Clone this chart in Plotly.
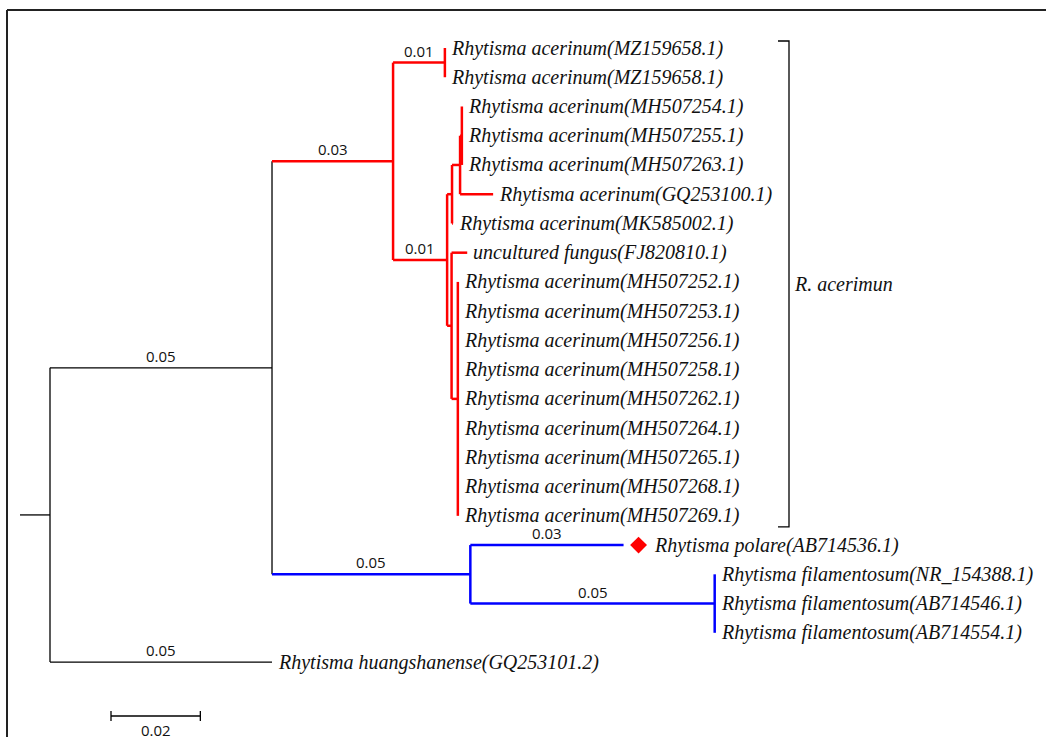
import plotly.graph_objects as go

# ---------------- data: tree topology and branch lengths ----------------
nodes = ["root", "A", "huang", "R", "B", "T", "L", "mz1", "mz2",
         "L1", "L2", "L1a", "mk", "L1b", "gq", "mh254", "mh255", "mh263",
         "unc", "L2b", "mh252", "mh253", "mh256", "mh258", "mh262",
         "mh264", "mh265", "mh268", "mh269", "pol", "F", "f1", "f2", "f3"]
parents = [None, "root", "root", "A", "A", "R", "R", "T", "T",
           "L", "L", "L1", "L1", "L1a", "L1a", "L1b", "L1b", "L1b",
           "L2", "L2", "L2b", "L2b", "L2b", "L2b", "L2b",
           "L2b", "L2b", "L2b", "L2b", "B", "B", "F", "F", "F"]
branch_lengths = [0.0, 0.0497, 0.0497, 0.0271, 0.0444, 0.0116, 0.0121, 0.0, 0.0,
                  0.0011, 0.0010, 0.0018, 0.0002, 0.0004, 0.0074, 0.0, 0.0, 0.0,
                  0.0035, 0.0014, 0.0, 0.0, 0.0, 0.0, 0.0,
                  0.0, 0.0, 0.0, 0.0, 0.0343, 0.0547, 0.0, 0.0, 0.0]

leaf_labels = {
    "mz1": "Rhytisma acerinum(MZ159658.1)",
    "mz2": "Rhytisma acerinum(MZ159658.1)",
    "mh254": "Rhytisma acerinum(MH507254.1)",
    "mh255": "Rhytisma acerinum(MH507255.1)",
    "mh263": "Rhytisma acerinum(MH507263.1)",
    "gq": "Rhytisma acerinum(GQ253100.1)",
    "mk": "Rhytisma acerinum(MK585002.1)",
    "unc": "uncultured fungus(FJ820810.1)",
    "mh252": "Rhytisma acerinum(MH507252.1)",
    "mh253": "Rhytisma acerinum(MH507253.1)",
    "mh256": "Rhytisma acerinum(MH507256.1)",
    "mh258": "Rhytisma acerinum(MH507258.1)",
    "mh262": "Rhytisma acerinum(MH507262.1)",
    "mh264": "Rhytisma acerinum(MH507264.1)",
    "mh265": "Rhytisma acerinum(MH507265.1)",
    "mh268": "Rhytisma acerinum(MH507268.1)",
    "mh269": "Rhytisma acerinum(MH507269.1)",
    "pol": "Rhytisma polare(AB714536.1)",
    "f1": "Rhytisma filamentosum(NR_154388.1)",
    "f2": "Rhytisma filamentosum(AB714546.1)",
    "f3": "Rhytisma filamentosum(AB714554.1)",
    "huang": "Rhytisma huangshanense(GQ253101.2)",
}

# branch-length labels shown above branches
branch_label_nodes = ["A", "huang", "R", "B", "T", "L", "pol", "F"]
branch_label_texts = ["0.05", "0.05", "0.03", "0.05", "0.01", "0.01", "0.03", "0.05"]

clade_name = "R. acerimun"
clade_first_leaf, clade_last_leaf = "mz1", "mh269"
marked_leaf = "pol"
scale_bar_length = 0.02
scale_bar_text = "0.02"

# ---------------- compute layout of tree ----------------
children = {n: [] for n in nodes}
parent_of = dict(zip(nodes, parents))
blen = dict(zip(nodes, branch_lengths))
for n, p in zip(nodes, parents):
    if p is not None:
        children[p].append(n)

xpos, ypos = {}, {}
leaf_counter = [0]


def layout_node(n, x):
    xpos[n] = x
    if not children[n]:
        ypos[n] = leaf_counter[0]
        leaf_counter[0] += 1
    else:
        for c in children[n]:
            layout_node(c, x + blen[c])
        ys = [ypos[c] for c in children[n]]
        ypos[n] = (min(ys) + max(ys)) / 2


layout_node("root", 0.0)


def ancestors(n):
    out = [n]
    while parent_of[n] is not None:
        n = parent_of[n]
        out.append(n)
    return out


RED, BLUE, BLACK = "#FF0000", "#0000FF", "#000000"


def color_of(n):
    anc = ancestors(n)
    if "R" in anc:
        return RED
    if "B" in anc:
        return BLUE
    return BLACK


# pixel mapping constants (figure geometry)
W, H = 1046, 737
PX_PER_UNIT = 4467.0
ROOT_PX = 50.0
ROW0_PX = 48.0
ROW_PX = 29.24
ux = 1.0 / PX_PER_UNIT      # one pixel in x data units
uy = 1.0 / ROW_PX           # one pixel in y data units

segs = {RED: ([], []), BLUE: ([], []), BLACK: ([], [])}


def add_seg(col, x0, y0, x1, y1):
    xs, ys = segs[col]
    xs += [x0, x1, None]
    ys += [y0, y1, None]


for n in nodes:
    p = parent_of[n]
    if p is not None:
        add_seg(color_of(n), xpos[p], ypos[n], xpos[n], ypos[n])
    if children[n]:
        ys = [ypos[c] for c in children[n]]
        add_seg(color_of(n), xpos[n], min(ys), xpos[n], max(ys))

# root stub
add_seg(BLACK, -30 * ux, ypos["root"], 0.0, ypos["root"])

fig = go.Figure()
for col, width in [(BLACK, 1.3), (RED, 2.5), (BLUE, 2.5)]:
    xs, ys = segs[col]
    fig.add_trace(go.Scatter(x=xs, y=ys, mode="lines",
                             line=dict(color=col, width=width),
                             hoverinfo="skip", showlegend=False))

# marker on Rhytisma polare
fig.add_trace(go.Scatter(x=[xpos[marked_leaf] + 15 * ux], y=[ypos[marked_leaf]],
                         mode="markers",
                         marker=dict(symbol="diamond", size=13, color=RED),
                         hoverinfo="skip", showlegend=False))

annotations = []
serif = dict(family="Liberation Serif", size=20, color="#111111", style="italic")
sans = dict(family="Open Sans", size=15, color="#111111")

for n, txt in leaf_labels.items():
    shift = 28 if n == marked_leaf else 4
    annotations.append(dict(x=xpos[n], y=ypos[n], text=txt, showarrow=False,
                            xanchor="left", yanchor="middle", xshift=shift,
                            font=serif))

for n, txt in zip(branch_label_nodes, branch_label_texts):
    xm = (xpos[parent_of[n]] + xpos[n]) / 2
    annotations.append(dict(x=xm, y=ypos[n], text=txt, showarrow=False,
                            xanchor="center", yanchor="bottom", yshift=0,
                            font=sans))

# clade bracket
bx = 739 * ux
btop = ypos[clade_first_leaf] - 7 * uy
bbot = ypos[clade_last_leaf] + 11 * uy
fig.add_trace(go.Scatter(x=[bx - 11 * ux, bx, bx, bx - 11 * ux],
                         y=[btop, btop, bbot, bbot], mode="lines",
                         line=dict(color=BLACK, width=1.3),
                         hoverinfo="skip", showlegend=False))
annotations.append(dict(x=bx, y=(btop + bbot) / 2, text=clade_name, showarrow=False,
                        xanchor="left", yanchor="middle", xshift=3, font=serif))

# scale bar
sb_x0 = 61 * ux
sb_y = (716 - ROW0_PX) * uy
fig.add_trace(go.Scatter(x=[sb_x0, sb_x0, None, sb_x0, sb_x0 + scale_bar_length, None,
                            sb_x0 + scale_bar_length, sb_x0 + scale_bar_length],
                         y=[sb_y - 5 * uy, sb_y + 5 * uy, None, sb_y, sb_y, None,
                            sb_y - 5 * uy, sb_y + 5 * uy],
                         mode="lines", line=dict(color=BLACK, width=1.3),
                         hoverinfo="skip", showlegend=False))
annotations.append(dict(x=sb_x0 + scale_bar_length / 2, y=sb_y, text=scale_bar_text,
                        showarrow=False, xanchor="center", yanchor="top", yshift=-2,
                        font=sans))

# frame lines (top and left edges of the original figure box)
shapes = [
    dict(type="line", xref="paper", yref="paper", x0=7 / W, x1=1, y0=1 - 10 / H, y1=1 - 10 / H,
         line=dict(color="#222222", width=2)),
    dict(type="line", xref="paper", yref="paper", x0=7 / W, x1=7 / W, y0=0, y1=1 - 10 / H,
         line=dict(color="#222222", width=2)),
]

fig.update_layout(
    width=W, height=H,
    margin=dict(l=0, r=0, t=0, b=0),
    paper_bgcolor="white", plot_bgcolor="white",
    xaxis=dict(range=[-ROOT_PX * ux, (W - ROOT_PX) * ux], visible=False, fixedrange=True),
    yaxis=dict(range=[(H - ROW0_PX) * uy, -ROW0_PX * uy], visible=False, fixedrange=True),
    annotations=annotations,
    shapes=shapes,
    showlegend=False,
)

fig.write_html("out.html", config={"displayModeBar": False},
               post_script="document.body.style.margin='0';document.body.style.overflow='hidden';")
